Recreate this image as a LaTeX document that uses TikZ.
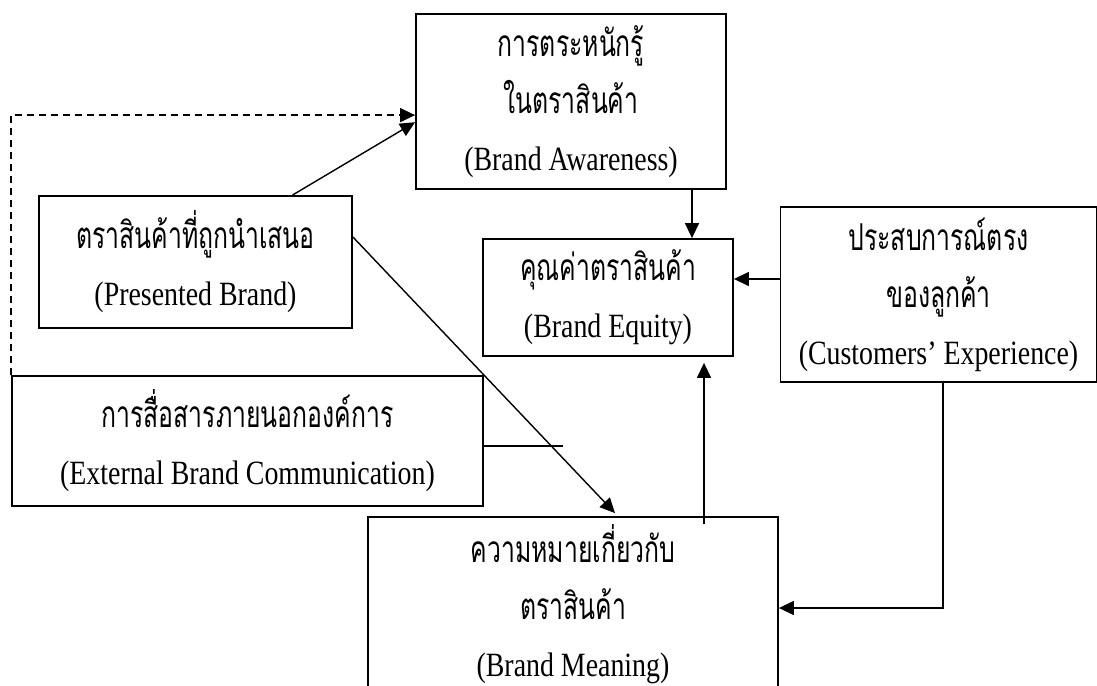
\documentclass[tikz,border=0pt]{standalone}
\usepackage{fontspec}
\setmainfont{Liberation Serif}[FakeStretch=0.82]
\newfontfamily\thai[Script=Thai,FakeStretch=0.67]{Loma}
\usetikzlibrary{arrows.meta,calc}
\newcommand{\boxfont}{\fontsize{34}{57}\selectfont\lineskiplimit=-100pt\relax}
\newcommand{\thtxt}[1]{{\thai\fontsize{37}{57}\selectfont #1}}
\tikzset{
  box/.style={draw=black,line width=1.8pt,align=center,inner sep=0pt,font=\boxfont},
  conn/.style={line width=1.4pt},
  arr/.style={conn,-{Triangle[length=15pt,width=14pt]}},
}
\begin{document}
\begin{tikzpicture}[x=1pt,y=-1pt]
\useasboundingbox (0,0) rectangle (1097,685);
\clip (0,0) rectangle (1097,685);
\node[box,minimum width=310pt,minimum height=175pt] (aware) at (571,101.5)
  {\thtxt{การตระหนักรู้}\\ \thtxt{ในตราสินค้า}\\ (Brand Awareness)};
\node[box,minimum width=250pt,minimum height=117pt] (equity) at (608,297.5)
  {\thtxt{คุณค่าตราสินค้า}\\ (Brand Equity)};
\node[box,minimum width=316pt,minimum height=175pt] (cust) at (938.5,294.5)
  {\thtxt{ประสบการณ์ตรง}\\ \thtxt{ของลูกค้า}\\ (Customers’ Experience)};
\node[box,minimum width=313pt,minimum height=132pt] (pres) at (195.5,262)
  {\thtxt{ตราสินค้าที่ถูกนำเสนอ}\\ (Presented Brand)};
\node[box,minimum width=471pt,minimum height=130pt] (ext) at (247.5,441)
  {\thtxt{การสื่อสารภายนอกองค์การ}\\ (External Brand Communication)};
\node[box,minimum width=410pt,minimum height=174pt] (mean) at (573,604)
  {\thtxt{ความหมายเกี่ยวกับ}\\ \thtxt{ตราสินค้า}\\ (Brand Meaning)};
% helper coordinates
\coordinate (xa) at (692,0);
\coordinate (yc) at (0,279);
\coordinate (xc) at (943,0);
\coordinate (ym) at (0,608);
\coordinate (xm) at (704,0);
\coordinate (xd) at (615,0);
\coordinate (yp) at (0,237);
\coordinate (stub) at (563,446);
% connectors
\draw[arr] ($(pres.north west)!0.808!(pres.north east)$) -- ($(aware.north west)!0.617!(aware.south west)$);
\draw[arr,dashed,dash pattern=on 7pt off 5pt] (ext.north west) |- ($(aware.north west)!0.577!(aware.south west)$);
\draw[arr] (aware.south -| xa) -- (equity.north -| xa);
\draw[arr] (cust.west |- yc) -- (equity.east |- yc);
\draw[arr] (cust.south -| xc) |- (mean.east |- ym);
\draw[arr] (pres.east |- yp) -- ([yshift=3pt]mean.north -| xd);
\draw[arr,shorten >=6pt] ([yshift=-8pt]mean.north -| xm) -- (equity.south -| xm);
\draw[conn] (ext.east |- stub) -- (stub);
\end{tikzpicture}
\end{document}
